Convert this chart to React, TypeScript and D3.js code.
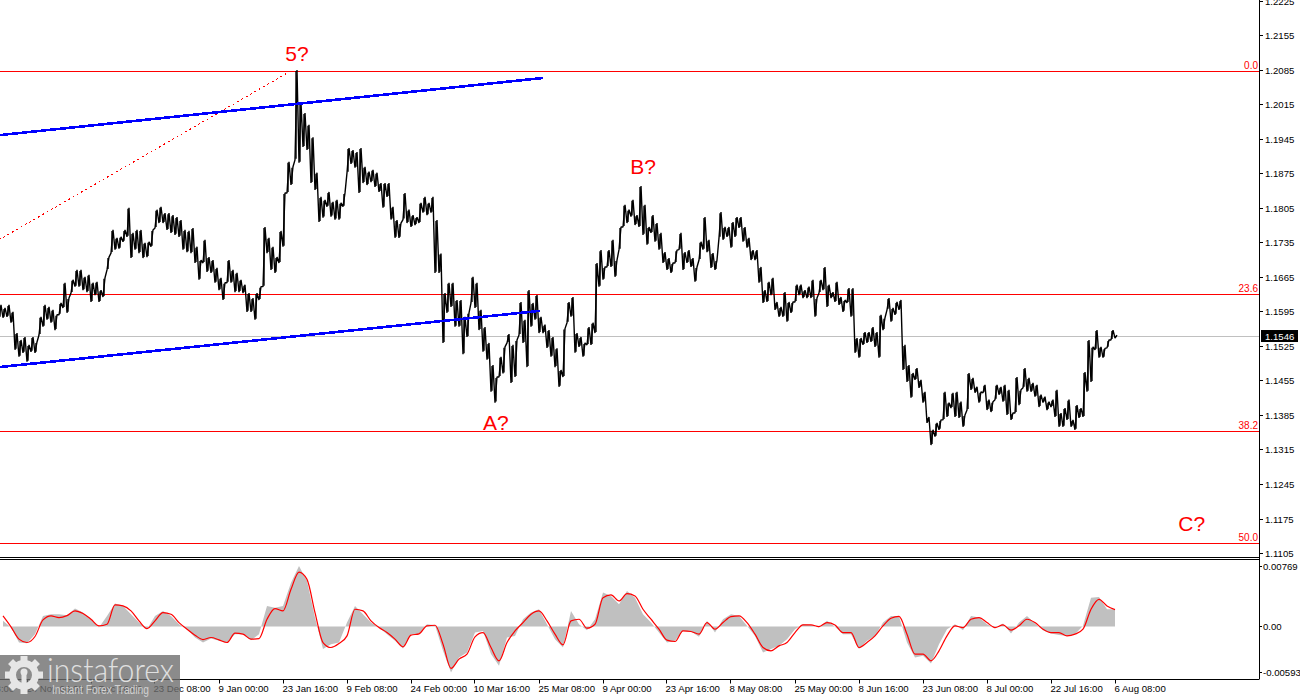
import { useEffect, useRef } from "react";
import * as d3 from "d3";

// H4-ish price bars, one [high, low] pair per bar
const priceBars: [number, number][] = [
  [1.1609,1.1583],[1.1603,1.1583],[1.1609,1.1585],[1.1595,1.1573],[1.1552,1.1518],[1.1538,1.1504],[1.1544,1.1512],[1.1528,1.1494],[1.1544,1.1514],[1.1534,1.1512],
  [1.1585,1.1548],[1.1609,1.1565],[1.1605,1.1579],[1.1599,1.1573],[1.1589,1.1558],[1.1613,1.1589],[1.1654,1.1603],[1.1623,1.1593],[1.1660,1.1633],[1.1680,1.1646],
  [1.1680,1.1646],[1.1666,1.1639],[1.1670,1.1635],[1.1654,1.1615],[1.1656,1.1629],[1.1639,1.1615],[1.1664,1.1625],[1.1706,1.1680],[1.1761,1.1714],[1.1745,1.1721],
  [1.1747,1.1723],[1.1761,1.1737],[1.1806,1.1747],[1.1755,1.1704],[1.1761,1.1721],[1.1761,1.1714],[1.1735,1.1704],[1.1737,1.1706],[1.1761,1.1727],[1.1802,1.1765],
  [1.1808,1.1775],[1.1795,1.1775],[1.1795,1.1761],[1.1791,1.1755],[1.1787,1.1751],[1.1781,1.1747],[1.1761,1.1721],[1.1759,1.1716],[1.1765,1.1714],[1.1727,1.1694],
  [1.1700,1.1660],[1.1741,1.1694],[1.1706,1.1676],[1.1700,1.1674],[1.1684,1.1654],[1.1664,1.1639],[1.1654,1.1619],[1.1700,1.1654],[1.1680,1.1654],[1.1674,1.1635],
  [1.1660,1.1635],[1.1650,1.1633],[1.1633,1.1595],[1.1623,1.1595],[1.1633,1.1579],[1.1646,1.1619],[1.1767,1.1646],[1.1745,1.1714],[1.1727,1.1680],[1.1706,1.1674],
  [1.1759,1.1694],[1.1836,1.1727],[1.1899,1.1836],[1.1889,1.1852],[1.2085,1.1903],[1.2018,1.1897],[1.1998,1.1929],[1.1974,1.1923],[1.1949,1.1856],[1.1877,1.1842],
  [1.1828,1.1777],[1.1822,1.1786],[1.1838,1.1808],[1.1818,1.1788],[1.1822,1.1782],[1.1816,1.1782],[1.1836,1.1808],[1.1927,1.1877],[1.1923,1.1895],[1.1919,1.1887],
  [1.1927,1.1836],[1.1889,1.1856],[1.1879,1.1852],[1.1883,1.1858],[1.1877,1.1848],[1.1856,1.1838],[1.1856,1.1806],[1.1856,1.1828],[1.1808,1.1782],[1.1781,1.1745],
  [1.1775,1.1745],[1.1836,1.1782],[1.1802,1.1775],[1.1791,1.1767],[1.1787,1.1771],[1.1816,1.1775],[1.1828,1.1796],[1.1816,1.1791],[1.1828,1.1796],[1.1781,1.1674],
  [1.1713,1.1674],[1.1633,1.1532],[1.1654,1.1593],[1.1654,1.1605],[1.1619,1.1565],[1.1619,1.1565],[1.1585,1.1509],[1.1593,1.1544],[1.1666,1.1613],[1.1654,1.1603],
  [1.1599,1.1558],[1.1564,1.1514],[1.1532,1.1498],[1.1487,1.1433],[1.1463,1.1411],[1.1504,1.1463],[1.1524,1.1470],[1.1550,1.1532],[1.1528,1.1451],[1.1538,1.1463],
  [1.1615,1.1548],[1.1579,1.1532],[1.1639,1.1483],[1.1613,1.1565],[1.1629,1.1579],[1.1585,1.1552],[1.1569,1.1552],[1.1558,1.1522],[1.1544,1.1504],[1.1521,1.1483],
  [1.1477,1.1443],[1.1561,1.1463],[1.1615,1.1573],[1.1625,1.1585],[1.1552,1.1512],[1.1544,1.1524],[1.1532,1.1504],[1.1564,1.1528],[1.1573,1.1528],[1.1694,1.1552],
  [1.1720,1.1646],[1.1686,1.1660],[1.1720,1.1686],[1.1741,1.1686],[1.1700,1.1666],[1.1767,1.1721],[1.1812,1.1767],[1.1802,1.1775],[1.1822,1.1788],[1.1791,1.1771],
  [1.1850,1.1767],[1.1812,1.1751],[1.1767,1.1731],[1.1791,1.1755],[1.1775,1.1737],[1.1755,1.1721],[1.1716,1.1694],[1.1704,1.1680],[1.1694,1.1674],[1.1720,1.1694],
  [1.1755,1.1721],[1.1716,1.1680],[1.1720,1.1694],[1.1704,1.1686],[1.1686,1.1656],[1.1737,1.1700],[1.1787,1.1721],[1.1741,1.1716],[1.1714,1.1684],[1.1700,1.1680],
  [1.1797,1.1745],[1.1767,1.1741],[1.1767,1.1747],[1.1777,1.1725],[1.1787,1.1747],[1.1787,1.1765],[1.1767,1.1737],[1.1745,1.1725],[1.1720,1.1700],[1.1720,1.1700],
  [1.1686,1.1654],[1.1639,1.1613],[1.1656,1.1615],[1.1664,1.1629],[1.1615,1.1599],[1.1605,1.1585],[1.1635,1.1585],[1.1615,1.1575],[1.1615,1.1593],[1.1650,1.1615],
  [1.1650,1.1629],[1.1639,1.1623],[1.1646,1.1623],[1.1660,1.1623],[1.1623,1.1585],[1.1660,1.1633],[1.1686,1.1639],[1.1650,1.1605],[1.1635,1.1623],[1.1656,1.1615],
  [1.1625,1.1609],[1.1619,1.1595],[1.1643,1.1613],[1.1643,1.1585],[1.1542,1.1512],[1.1542,1.1502],[1.1554,1.1528],[1.1554,1.1532],[1.1564,1.1534],[1.1554,1.1524],
  [1.1589,1.1502],[1.1583,1.1558],[1.1623,1.1599],[1.1603,1.1575],[1.1615,1.1589],[1.1619,1.1599],[1.1528,1.1477],[1.1487,1.1453],[1.1471,1.1421],[1.1481,1.1457],
  [1.1457,1.1441],[1.1433,1.1411],[1.1382,1.1370],[1.1356,1.1325],[1.1370,1.1342],[1.1376,1.1356],[1.1433,1.1376],[1.1411,1.1382],[1.1431,1.1400],[1.1433,1.1382],
  [1.1413,1.1380],[1.1386,1.1362],[1.1471,1.1396],[1.1461,1.1437],[1.1443,1.1431],[1.1433,1.1411],[1.1447,1.1431],[1.1417,1.1396],[1.1413,1.1392],[1.1447,1.1417],
  [1.1443,1.1427],[1.1447,1.1413],[1.1437,1.1386],[1.1390,1.1376],[1.1463,1.1390],[1.1437,1.1406],[1.1481,1.1441],[1.1461,1.1433],[1.1451,1.1433],[1.1447,1.1423],
  [1.1427,1.1402],[1.1423,1.1411],[1.1413,1.1396],[1.1417,1.1402],[1.1437,1.1382],[1.1390,1.1362],[1.1400,1.1362],[1.1417,1.1376],[1.1376,1.1362],[1.1406,1.1356],
  [1.1400,1.1380],[1.1473,1.1382],[1.1538,1.1433],[1.1524,1.1453],[1.1558,1.1518],[1.1524,1.1502],[1.1521,1.1502],[1.1538,1.1522],[1.1558,1.1538],[1.1548,1.1542],
];

// oscillator histogram and its signal, one value per two price bars
const macdHist = [
  0.00073,-0.00013,-0.00205,-0.00214,-0.00098,0.00137,0.00158,0.00158,0.00145,0.00231,0.00179,0.00094,-0.00013,0.00137,0.00295,0.00265,0.00158,0.00051,-0.00034,0.00137,
  0.00201,0.00137,0.0003,-0.00034,-0.00141,-0.00205,-0.00154,-0.00184,-0.00205,-0.00098,-0.00098,-0.00175,-0.00098,0.00265,0.00243,0.00265,0.00564,0.00777,0.00585,0.00115,
  -0.0029,-0.00226,-0.00205,0.00051,0.00265,0.00158,0.00051,-0.00013,-0.00098,-0.00184,-0.00282,-0.00098,-0.00098,0.0003,0.00017,-0.00312,-0.00589,-0.00397,-0.00333,-0.00077,
  -0.00056,-0.00354,-0.00504,-0.00141,-0.0012,0.00094,0.00179,0.00222,0.0003,-0.00162,-0.00269,0.00201,0.0003,-0.00047,0.00094,0.00436,0.00393,0.00286,0.00457,0.00371,
  0.00158,0.00051,-0.00077,-0.00205,-0.00184,-0.00056,-0.00064,-0.00132,0.00073,-0.00077,0.00094,0.00158,0.00137,0.00009,-0.0012,-0.00333,-0.0029,-0.00248,-0.00162,-0.00034,
  0.0003,0.00021,-0.00013,0.00073,-0.00004,-0.00098,-0.00098,-0.0029,-0.00184,-0.0012,0.00051,0.00137,0.00132,-0.00205,-0.00397,-0.00376,-0.00474,-0.00226,-0.00034,0.0003,
  -0.00047,0.00137,0.00115,0.0003,-0.00021,0.00038,-0.0009,0.00051,0.00137,0.00038,-0.00047,-0.0009,-0.00107,-0.0012,-0.00098,0.00009,0.00371,0.0038,0.00222,0.00222,
];
const macdSignal = [
  0.00137,-0.00004,-0.00162,-0.00205,-0.00128,0.00085,0.00137,0.00115,0.00141,0.00201,0.00167,0.00094,0.00009,0.0003,0.00278,0.00265,0.00201,0.00073,-0.00026,0.00073,
  0.00179,0.00158,0.00051,-0.00034,-0.00111,-0.00167,-0.00141,-0.00171,-0.00205,-0.00085,-0.00098,-0.00162,-0.00154,0.00094,0.00231,0.00201,0.00478,0.007,0.00606,0.00179,
  -0.00205,-0.00269,-0.00218,-0.0012,0.00222,0.00201,0.00073,-0.00013,-0.00077,-0.00162,-0.0026,-0.00111,-0.00094,0.00009,0.00017,-0.00226,-0.00538,-0.00418,-0.00354,-0.00132,
  -0.00077,-0.00269,-0.0044,-0.00205,-0.00056,0.00051,0.00158,0.00201,0.00073,-0.00098,-0.00235,0.00073,0.00094,-0.00021,0.0003,0.00371,0.00406,0.00329,0.00423,0.00393,
  0.00222,0.00094,-0.00034,-0.00175,-0.00192,-0.00056,-0.00064,-0.00098,0.00051,-0.00034,0.00051,0.00128,0.00137,0.00051,-0.00098,-0.00269,-0.00312,-0.00248,-0.00205,-0.00077,
  0.00021,0.00021,0,0.00051,0.00021,-0.00077,-0.00077,-0.00269,-0.00205,-0.0012,0.00009,0.00107,0.00132,-0.00098,-0.00354,-0.00354,-0.0044,-0.00312,-0.0012,0.00009,
  -0.00013,0.00094,0.00115,0.00051,-0.00013,0.00021,-0.00047,0.00009,0.00094,0.00051,-0.00034,-0.00077,-0.00077,-0.0012,-0.00098,-0.00034,0.00222,0.0035,0.00265,0.00218,
];

const priceTicks = ["1.1105","1.1175","1.1245","1.1315","1.1385","1.1455","1.1525","1.1595","1.1665","1.1735","1.1805","1.1875","1.1945","1.2015","1.2085","1.2155","1.2225"];
const macdTicks = [0.00769, 0, -0.00593];
const macdTickLabels = ["0.00769", "0.00", "-0.00593"];
const timeLabels = ["9 Nov 08:00","24 Nov 00:00","8 Dec 16:00","23 Dec 08:00","9 Jan 00:00","23 Jan 16:00","9 Feb 08:00","24 Feb 00:00","10 Mar 16:00","25 Mar 08:00","9 Apr 00:00","23 Apr 16:00","8 May 08:00","25 May 00:00","8 Jun 16:00","23 Jun 08:00","8 Jul 00:00","22 Jul 16:00","6 Aug 08:00"];
const firstLabelBar = -9;
const barsPerLabel = 16;

const fibLevels = ["0.0", "23.6", "38.2", "50.0"];
const fibPrices = [1.2082, 1.163, 1.1353, 1.1126];
const lastPrice = 1.1546;

// wave marks: label, bar, price at the text centre
const waveLabels = ["5?", "B?", "A?", "C?"];
const waveBars = [74.5, 161, 124.2, 298.2];
const wavePrices = [1.2119, 1.1889, 1.137, 1.1165];

// channel lines and the dotted trend line: [bar, price] ends
const channelUpper: [number, number][] = [[0, 1.1953], [136, 1.2069]];
const channelLower: [number, number][] = [[0, 1.1483], [135.2, 1.1597]];
const dottedTrend: [number, number][] = [[0, 1.1741], [72.7, 1.2082]];

const FONT = "'Liberation Sans', Arial, sans-serif";

export default function App() {
  const svgRef = useRef<SVGSVGElement>(null);

  useEffect(() => {
    if (!svgRef.current) return;
    const svg = d3.select(svgRef.current);
    svg.selectAll("*").remove();

    const width = 1300;
    const height = 700;
    const plotRight = 1259;
    const mainBottom = 557.5;
    const macdTop = 559.5;
    const macdBottom = 679.5;
    const tickFont = 9.6;

    svg.attr("width", width).attr("height", height).attr("viewBox", `0 0 ${width} ${height}`)
      .attr("style", `position:fixed;left:0;top:0;background:#fff;font-family:${FONT}`);

    const defs = svg.append("defs");
    defs.append("clipPath").attr("id", "mainClip").append("rect")
      .attr("x", 0).attr("y", 0).attr("width", plotRight).attr("height", mainBottom);
    defs.append("clipPath").attr("id", "macdClip").append("rect")
      .attr("x", 0).attr("y", macdTop).attr("width", plotRight).attr("height", macdBottom - macdTop);

    // ── Scales ──────────────────────────────────────────────
    const x = d3.scaleLinear().domain([0, priceBars.length - 1]).range([-1, 1115]);
    const macdX = d3.scaleLinear().domain([0, macdHist.length - 1]).range([3, 1115]);
    const y = d3.scaleLinear().domain([1.1105, 1.2225]).range([553.6, 1]);
    const macdY = d3.scaleLinear().domain([-0.00593, 0.00769]).range([672.7, 566.7]);
    const snap = (v: number) => Math.floor(v) + 0.5;

    const main = svg.append("g").attr("clip-path", "url(#mainClip)");
    const macd = svg.append("g").attr("clip-path", "url(#macdClip)");

    // ── Price panel ─────────────────────────────────────────
    main.append("line")
      .attr("x1", 0).attr("x2", plotRight)
      .attr("y1", snap(y(lastPrice))).attr("y2", snap(y(lastPrice)))
      .attr("stroke", "#c0c0c0").attr("stroke-width", 1);

    fibPrices.forEach((p) => {
      main.append("line")
        .attr("x1", 0).attr("x2", plotRight)
        .attr("y1", snap(y(p))).attr("y2", snap(y(p)))
        .attr("stroke", "#ff0000").attr("stroke-width", 1);
    });

    const pointLine = d3.line<[number, number]>().x((d) => x(d[0])).y((d) => y(d[1]));

    main.append("path").attr("d", pointLine(dottedTrend))
      .attr("fill", "none").attr("stroke", "#ff0000").attr("stroke-width", 1).attr("stroke-dasharray", "2,3")
      .attr("shape-rendering", "crispEdges");

    // high/low zigzag so the bars read as a dense black band
    const zigzag: [number, number][] = priceBars.flatMap(([hi, lo], i) => [[i, lo], [i + 0.5, hi]] as [number, number][]);
    main.append("path").attr("d", pointLine(zigzag))
      .attr("fill", "none").attr("stroke", "#000").attr("stroke-width", 1.4).attr("stroke-linejoin", "bevel");

    priceBars.forEach(([hi, lo], i) => {
      main.append("line")
        .attr("x1", x(i + 0.25)).attr("x2", x(i + 0.25))
        .attr("y1", y(hi) + 1).attr("y2", y(lo) - 1)
        .attr("stroke", "#000").attr("stroke-width", 1.4);
    });

    [channelUpper, channelLower].forEach((seg) => {
      main.append("path").attr("d", pointLine(seg))
        .attr("fill", "none").attr("stroke", "#0000ff").attr("stroke-width", 2.6)
        .attr("shape-rendering", "crispEdges");
    });

    waveLabels.forEach((label, i) => {
      main.append("text")
        .attr("x", x(waveBars[i])).attr("y", y(wavePrices[i]))
        .attr("text-anchor", "middle").attr("dominant-baseline", "central")
        .attr("font-size", 21).attr("fill", "#ff0000")
        .text(label);
    });

    fibLevels.forEach((label, i) => {
      main.append("text")
        .attr("x", plotRight - 1).attr("y", y(fibPrices[i]) - 2.5)
        .attr("text-anchor", "end").attr("font-size", 10).attr("fill", "#ff0000")
        .text(label);
    });

    // ── Oscillator panel ────────────────────────────────────
    const histArea = d3.area<number>()
      .x((_, i) => macdX(i)).y0(macdY(0)).y1((d) => macdY(d));
    macd.append("path").attr("d", histArea(macdHist)).attr("fill", "#c0c0c0");

    const signalLine = d3.line<number>()
      .x((_, i) => macdX(i)).y((d) => macdY(d)).curve(d3.curveMonotoneX);
    macd.append("path").attr("d", signalLine(macdSignal))
      .attr("fill", "none").attr("stroke", "#ff0000").attr("stroke-width", 1.2);

    // ── Frame and axes ──────────────────────────────────────
    const frame = svg.append("g").attr("stroke", "#000").attr("stroke-width", 1);
    frame.append("line").attr("x1", plotRight + 0.5).attr("x2", plotRight + 0.5).attr("y1", 0).attr("y2", macdBottom);
    frame.append("line").attr("x1", 0).attr("x2", plotRight).attr("y1", mainBottom).attr("y2", mainBottom);
    frame.append("line").attr("x1", 0).attr("x2", plotRight).attr("y1", macdTop).attr("y2", macdTop);
    frame.append("line").attr("x1", 0).attr("x2", plotRight).attr("y1", macdBottom).attr("y2", macdBottom);

    priceTicks.forEach((label) => {
      const py = snap(y(+label));
      frame.append("line").attr("x1", plotRight).attr("x2", plotRight + 4).attr("y1", py).attr("y2", py);
      svg.append("text").attr("x", plotRight + 6).attr("y", py - 0.3)
        .attr("dominant-baseline", "central").attr("font-size", tickFont).attr("fill", "#000")
        .text(label);
    });

    macdTicks.forEach((v, i) => {
      const py = snap(macdY(v));
      frame.append("line").attr("x1", plotRight).attr("x2", plotRight + 3).attr("y1", py).attr("y2", py);
      svg.append("text").attr("x", plotRight + 4).attr("y", py)
        .attr("dominant-baseline", "central").attr("font-size", tickFont).attr("fill", "#000")
        .text(macdTickLabels[i]);
    });

    timeLabels.forEach((label, i) => {
      const tx = snap(x(firstLabelBar + i * barsPerLabel));
      frame.append("line").attr("x1", tx).attr("x2", tx).attr("y1", macdBottom).attr("y2", macdBottom + 4);
      svg.append("text").attr("x", tx - 1).attr("y", 692)
        .attr("font-size", tickFont).attr("fill", "#000")
        .text(label);
    });

    // current price flag
    svg.append("rect").attr("x", 1261).attr("y", y(lastPrice) - 6).attr("width", 37).attr("height", 12).attr("fill", "#000");
    svg.append("text").attr("x", plotRight + 6).attr("y", y(lastPrice) + 0.5)
      .attr("dominant-baseline", "central").attr("font-size", tickFont).attr("fill", "#fff")
      .text(lastPrice.toFixed(4));

    // ── Watermark ───────────────────────────────────────────
    const logo = svg.append("g");
    logo.append("rect").attr("x", 0).attr("y", 655).attr("width", 180).attr("height", 45)
      .attr("fill", "#6e6e6e").attr("fill-opacity", 0.8);

    const gear = logo.append("g").attr("transform", "translate(24,675)").attr("fill", "#e6e6e6");
    d3.range(8).forEach((i) => {
      gear.append("rect").attr("x", -3.5).attr("y", -19).attr("width", 7).attr("height", 7)
        .attr("transform", `rotate(${i * 45})`);
    });
    gear.append("path").attr("d", d3.arc()({ innerRadius: 8, outerRadius: 15, startAngle: 0, endAngle: 2 * Math.PI }));
    gear.append("circle").attr("cx", 0).attr("cy", -3).attr("r", 3.5);
    gear.append("rect").attr("x", -2.5).attr("y", -1).attr("width", 5).attr("height", 17);

    logo.append("text").attr("x", 47).attr("y", 682)
      .attr("font-family", "Lato, sans-serif").attr("font-size", 34).attr("font-weight", 300)
      .attr("fill", "#e0e0e0").attr("textLength", 127).attr("lengthAdjust", "spacingAndGlyphs")
      .text("instaforex");
    logo.append("text").attr("x", 52).attr("y", 694)
      .attr("font-size", 12).attr("fill", "#d0d0d0").attr("textLength", 97).attr("lengthAdjust", "spacingAndGlyphs")
      .text("Instant Forex Trading");
  }, []);

  return <svg ref={svgRef} />;
}
